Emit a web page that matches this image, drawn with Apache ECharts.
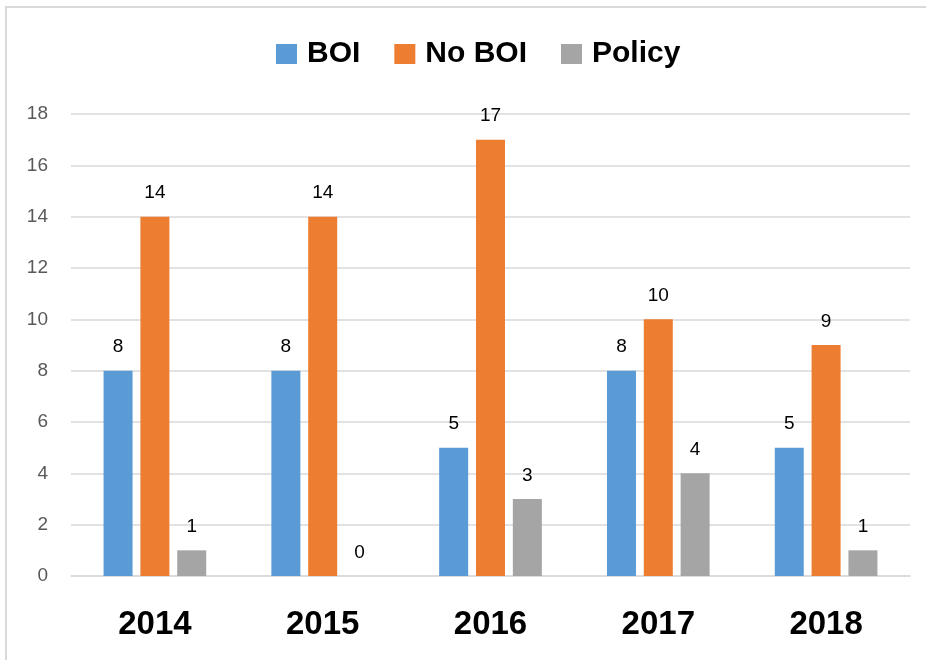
<!DOCTYPE html>
<html>
<head>
<meta charset="utf-8">
<script src="https://cdn.jsdelivr.net/npm/echarts@6/dist/echarts.min.js"></script>
<style>
  html, body { margin: 0; padding: 0; background: #fff; }
  #chart { width: 926px; height: 660px; }
</style>
</head>
<body>
<div id="chart"></div>
<script>
var years = ['2014', '2015', '2016', '2017', '2018'];
var boi = [8, 8, 5, 8, 5];
var noBoi = [14, 14, 17, 10, 9];
var policy = [1, 0, 3, 4, 1];

var chart = echarts.init(document.getElementById('chart'));

var labelStyle = {
  show: true,
  position: 'top',
  distance: 14,
  color: '#000',
  fontSize: 19,
  fontFamily: 'Liberation Sans, Arial, sans-serif'
};

chart.setOption({
  animation: false,
  graphic: [{
    type: 'rect',
    shape: { x: 6, y: 7, width: 940, height: 700 },
    style: { fill: 'none', stroke: '#d9d9d9', lineWidth: 2 },
    silent: true
  }],
  legend: {
    top: 39,
    left: 276,
    padding: 0,
    itemWidth: 21,
    itemHeight: 20,
    itemGap: 34,
    icon: 'rect',
    textStyle: {
      fontSize: 30,
      fontWeight: 'bold',
      color: '#000',
      fontFamily: 'Liberation Sans, Arial, sans-serif',
      padding: [0, 0, 0, 5]
    },
    data: ['BOI', 'No BOI', 'Policy']
  },
  grid: { left: 71, right: 16, top: 114, bottom: 84 },
  xAxis: {
    type: 'category',
    data: years,
    axisLine: { lineStyle: { color: '#d9d9d9', width: 1.5 } },
    axisTick: { show: false },
    axisLabel: {
      margin: 32,
      fontSize: 33,
      fontWeight: 'bold',
      color: '#000',
      fontFamily: 'Liberation Sans, Arial, sans-serif'
    }
  },
  yAxis: {
    type: 'value',
    min: 0,
    max: 18,
    interval: 2,
    axisLine: { show: false },
    axisTick: { show: false },
    splitLine: { lineStyle: { color: '#d9d9d9', width: 1.5 } },
    axisLabel: {
      margin: 23,
      fontSize: 19,
      color: '#595959',
      fontFamily: 'Liberation Sans, Arial, sans-serif'
    }
  },
  series: [
    {
      name: 'BOI', type: 'bar', data: boi,
      barWidth: 29, barGap: '27%',
      itemStyle: { color: '#5B9BD5' },
      label: labelStyle
    },
    {
      name: 'No BOI', type: 'bar', data: noBoi,
      barWidth: 29, barGap: '27%',
      itemStyle: { color: '#ED7D31' },
      label: labelStyle
    },
    {
      name: 'Policy', type: 'bar', data: policy,
      barWidth: 29, barGap: '27%',
      itemStyle: { color: '#A5A5A5' },
      label: labelStyle
    }
  ]
});
</script>
</body>
</html>
